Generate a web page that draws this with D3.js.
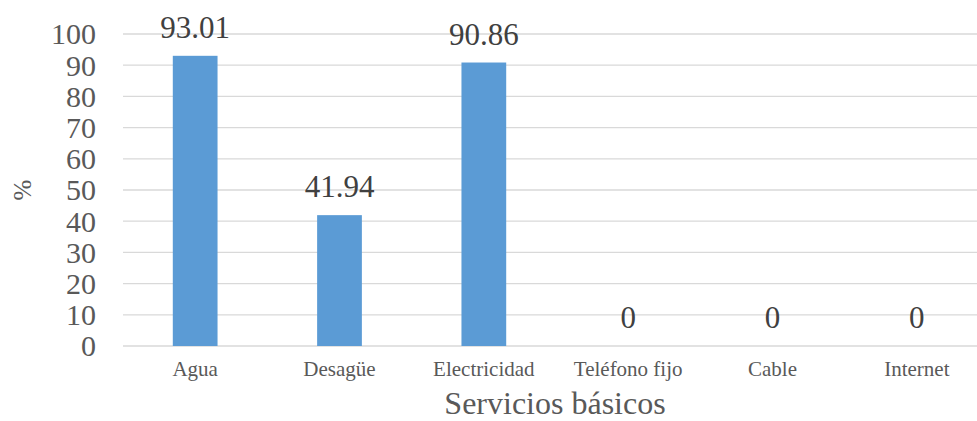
<!DOCTYPE html>
<html>
<head>
<meta charset="utf-8">
<script src="https://cdn.jsdelivr.net/npm/d3@7"></script>
<style>
  html, body { margin: 0; padding: 0; background: #fff; }
  svg { display: block; }
</style>
</head>
<body>
<svg id="chart" width="977" height="421"></svg>
<script>
const categories = ["Agua", "Desagüe", "Electricidad", "Teléfono fijo", "Cable", "Internet"];
const values = [93.01, 41.94, 90.86, 0, 0, 0];
const valueLabels = ["93.01", "41.94", "90.86", "0", "0", "0"];
const yTicks = [0, 10, 20, 30, 40, 50, 60, 70, 80, 90, 100];
const xTitle = "Servicios básicos";
const yTitle = "%";

const FONT = '"Liberation Serif"';
const svg = d3.select("#chart");

const x = d3.scaleBand().domain(categories).range([123, 989]).paddingInner(0.69).paddingOuter(0.345);
const y = d3.scaleLinear().domain([0, 100]).range([346, 34]);

// gridlines
svg.append("g").selectAll("line").data(yTicks).join("line")
  .attr("x1", 123).attr("x2", 977)
  .attr("y1", d => y(d)).attr("y2", d => y(d))
  .attr("stroke", "#d9d9d9").attr("stroke-width", 1.3);

// y axis labels
const yAxis = svg.append("g").attr("transform", "translate(96,0)")
  .call(d3.axisLeft(y).tickValues(yTicks).tickSize(0).tickPadding(0));
yAxis.select(".domain").remove();
yAxis.selectAll("text")
  .style("font-family", FONT).style("font-size", "30px").attr("fill", "#595959")
  .attr("dy", "0.33em");

// bars
svg.append("g").selectAll("rect").data(values).join("rect")
  .attr("x", (d, i) => x(categories[i]))
  .attr("width", x.bandwidth())
  .attr("y", d => y(d))
  .attr("height", d => y(0) - y(d))
  .attr("fill", "#5b9bd5");

// data labels
svg.append("g").selectAll("text").data(values).join("text")
  .attr("x", (d, i) => x(categories[i]) + x.bandwidth() / 2)
  .attr("y", d => y(d) - 18)
  .attr("text-anchor", "middle")
  .style("font-family", FONT).style("font-size", "31px").attr("fill", "#404040")
  .text((d, i) => valueLabels[i]);

// x axis labels
const xAxis = svg.append("g").attr("transform", "translate(0,346)")
  .call(d3.axisBottom(x).tickSize(0).tickPadding(0));
xAxis.select(".domain").remove();
xAxis.selectAll("text")
  .style("font-family", FONT).style("font-size", "21px").attr("fill", "#595959")
  .attr("y", 30).attr("dy", 0);

// axis titles
svg.append("text")
  .attr("x", 555).attr("y", 414)
  .attr("text-anchor", "middle")
  .style("font-family", FONT).style("font-size", "32px").attr("fill", "#595959")
  .text(xTitle);

svg.append("text")
  .attr("transform", "translate(31,190) rotate(-90)")
  .attr("text-anchor", "middle")
  .style("font-family", FONT).style("font-size", "25px").attr("fill", "#595959")
  .text(yTitle);
</script>
</body>
</html>
